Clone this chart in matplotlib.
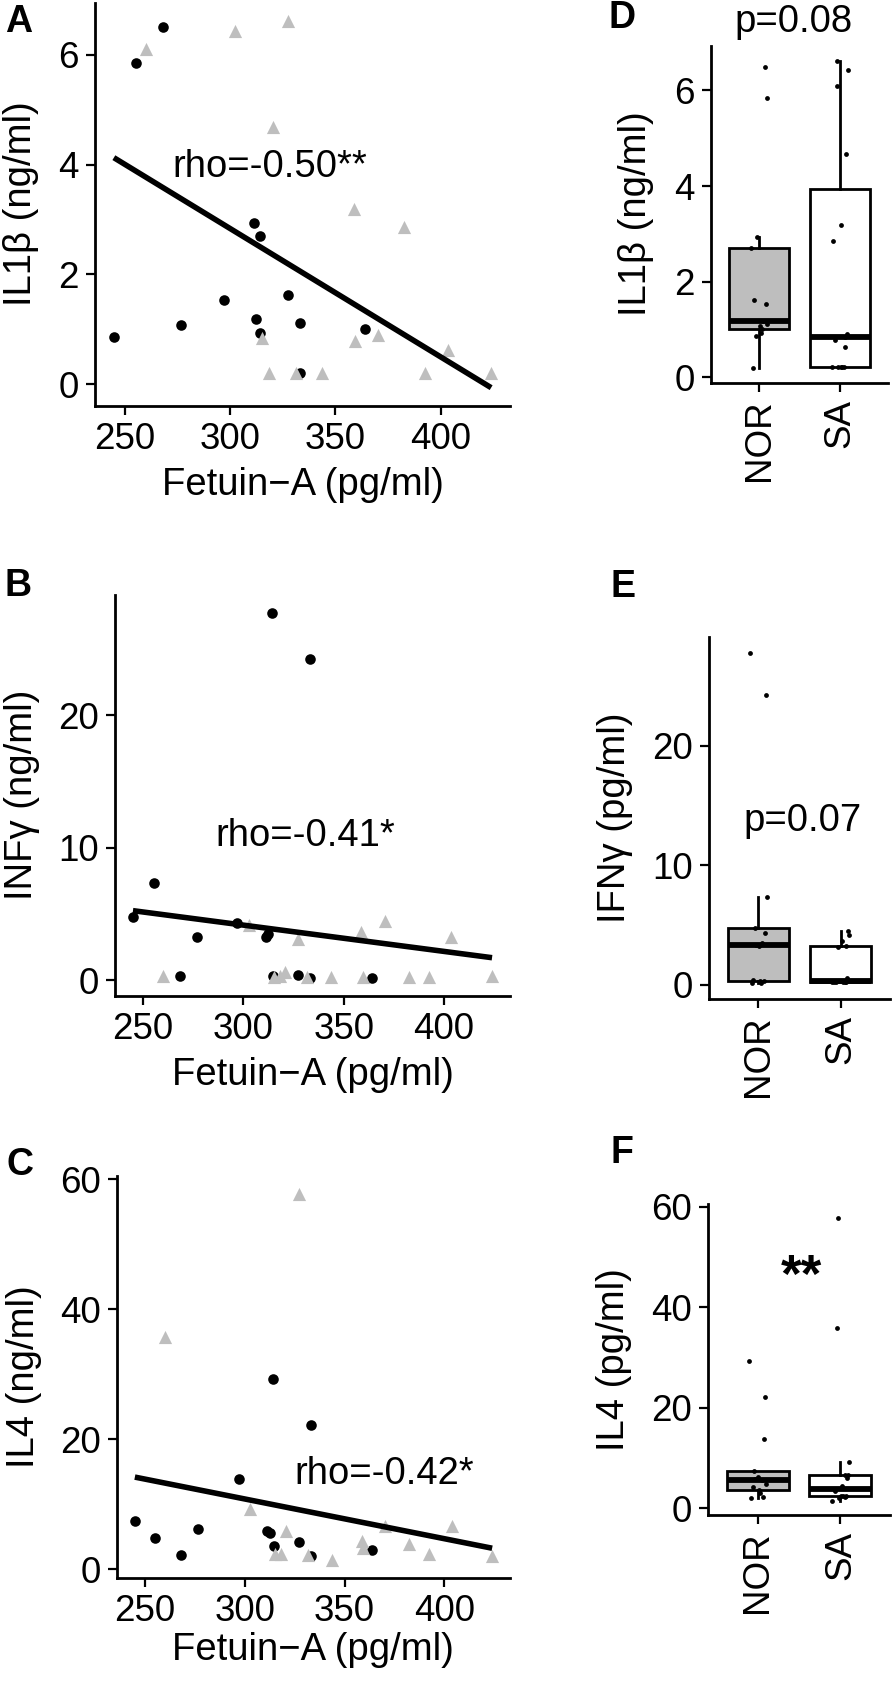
import numpy as np
import matplotlib
matplotlib.use("Agg")
import matplotlib.pyplot as plt

plt.rcParams['font.family'] = ['Liberation Sans', 'DejaVu Sans']

# ---------------- data ----------------
groups = ["NOR", "SA"]
fetuin_nor = [244.9, 255.2, 268.2, 276.7, 297.0, 311.3, 312.4, 314.1, 314.5, 327.4, 333.4, 333.4, 363.9]
fetuin_sa = [260.0, 302.6, 315.0, 318.4, 320.5, 327.4, 331.5, 343.8, 358.7, 359.5, 370.5, 382.4, 392.6, 403.7, 424.0]

il1b_nor = [0.86, 5.85, 6.50, 1.08, 1.54, 2.93, 1.18, 2.70, 0.93, 1.62, 1.12, 0.20, 1.01]
il1b_sa = [6.10, 6.43, 0.84, 0.21, 4.68, 6.61, 0.21, 0.21, 3.19, 0.78, 0.90, 2.86, 0.21, 0.63, 0.21]

ifng_nor = [4.79, 7.36, 0.30, 3.28, 4.34, 3.30, 3.50, 27.7, 0.30, 0.38, 24.26, 0.20, 0.20]
ifng_sa = [0.30, 4.20, 0.25, 0.30, 0.60, 3.15, 0.25, 0.25, 3.63, 0.25, 4.50, 0.25, 0.25, 3.28, 0.30]

il4_nor = [7.43, 4.77, 2.20, 6.15, 13.8, 5.80, 5.50, 29.2, 3.50, 4.10, 22.15, 2.05, 2.97]
il4_sa = [35.8, 9.2, 2.3, 2.3, 5.9, 57.7, 2.2, 1.43, 4.3, 3.3, 6.55, 3.85, 2.3, 6.55, 2.0]

x_ticks = [250, 300, 350, 400]
rho_labels = ["rho=-0.50**", "rho=-0.41*", "rho=-0.42*"]
box_labels = ["p=0.08", "p=0.07", "**"]

# ---------------- layout ----------------
W, H = 893, 1688
fig = plt.figure(figsize=(W / 100, H / 100), dpi=100)

def px_axes(l, t, r, b):
    return fig.add_axes([l / W, 1 - b / H, (r - l) / W, (b - t) / H])

GRAY = "#BEBEBE"
TICK_FS = 26.5
TITLE_FS = 27.5
JIT = [-0.04, 0.10, 0.07, 0.01, 0.08, -0.03, 0.05, -0.10, 0.02, -0.06, 0.09, -0.08, 0.03, 0.06, -0.02]

def style(ax):
    for s in ["top", "right"]:
        ax.spines[s].set_visible(False)
    for s in ["left", "bottom"]:
        ax.spines[s].set_linewidth(2.0)
        ax.spines[s].set_color("black")
    ax.tick_params(axis="both", labelsize=TICK_FS, length=6.5, width=1.6,
                   colors="black", pad=5)

def scatter_panel(box, yn, ys, yticks, rho, rho_xy):
    ax = px_axes(*box)
    ax.scatter(fetuin_nor, yn, s=58, color="black", marker="o", linewidths=0, zorder=2)
    ax.scatter(fetuin_sa, ys, s=90, color=GRAY, marker="^", linewidths=0, zorder=3)
    xa = np.array(fetuin_nor + fetuin_sa)
    ya = np.array(yn + ys)
    k, b = np.polyfit(xa, ya, 1)
    xl = np.array([xa.min(), xa.max()])
    ax.plot(xl, k * xl + b, color="black", lw=4.0, solid_capstyle="butt", zorder=4)
    ax.margins(x=0.05, y=0.05)
    ax.set_xticks(x_ticks)
    ax.set_yticks(yticks)
    ax.text(rho_xy[0], rho_xy[1], rho, fontsize=TITLE_FS, ha="center", va="center")
    style(ax)
    return ax

def box_panel(box, yn, ys, yticks, lab, lab_xy, lab_kw):
    ax = px_axes(*box)
    bp = ax.boxplot([yn, ys], positions=[1, 2], widths=0.75, patch_artist=True,
                    showfliers=False, showcaps=False, whis=1.5,
                    boxprops=dict(linewidth=2.0, edgecolor="black"),
                    whiskerprops=dict(linewidth=2.0, color="black"),
                    medianprops=dict(linewidth=4.2, color="black"))
    for patch, fc in zip(bp["boxes"], [GRAY, "white"]):
        patch.set_facecolor(fc)
    for gi, vals in enumerate([yn, ys]):
        xs = [gi + 1 + JIT[i % len(JIT)] for i in range(len(vals))]
        ax.scatter(xs, vals, s=12, color="black", linewidths=0, zorder=5)
    ax.set_xlim(0.4, 2.6)
    ax.margins(y=0.05)
    ax.set_xticks([1, 2])
    ax.set_xticklabels(groups, rotation=90)
    ax.set_yticks(yticks)
    ax.text(lab_xy[0], lab_xy[1], lab, ha="center", clip_on=False, **lab_kw)
    style(ax)
    return ax

# scatter panels (left column)
scatter_panel((95, 3, 510, 406), il1b_nor, il1b_sa, [0, 2, 4, 6], rho_labels[0], (319, 3.95))
scatter_panel((115, 595, 510, 996), ifng_nor, ifng_sa, [0, 10, 20], rho_labels[1], (331, 10.9))
scatter_panel((117, 1176, 510, 1578), il4_nor, il4_sa, [0, 20, 40, 60], rho_labels[2], (370, 14.6))

# box panels (right column)
box_panel((711, 46, 888, 383), il1b_nor, il1b_sa, [0, 2, 4, 6], box_labels[0], (1.43, 7.44),
          dict(fontsize=TITLE_FS, va="center"))
box_panel((709, 637, 890, 999), ifng_nor, ifng_sa, [0, 10, 20], box_labels[1], (1.54, 13.7),
          dict(fontsize=TITLE_FS, va="center"))
box_panel((708, 1204, 890, 1515), il4_nor, il4_sa, [0, 20, 40, 60], box_labels[2], (1.53, 43.0),
          dict(fontsize=38, fontweight="bold", va="baseline"))

# axis titles
def fx(x):
    return x / W

def fy(y):
    return 1 - y / H

for xc, yb in [(302.5, 495), (312.5, 1085), (313, 1660)]:
    fig.text(fx(xc), fy(yb), "Fetuin\u2212A (pg/ml)", fontsize=TITLE_FS, ha="center", va="baseline")

ylabels = [("IL1\u03b2 (ng/ml)", 21, 204), ("INF\u03b3 (ng/ml)", 22, 795), ("IL4 (ng/ml)", 24, 1377),
           ("IL1\u03b2 (ng/ml)", 636, 214), ("IFN\u03b3 (pg/ml)", 615, 818), ("IL4 (pg/ml)", 614, 1360)]
for txt, xc, yc in ylabels:
    fig.text(fx(xc), fy(yc), txt, fontsize=TITLE_FS, rotation=90, ha="center", va="center")

for letter, xc, yc in [("A", 19, 22), ("B", 18.5, 586), ("C", 20, 1165),
                       ("D", 622, 18), ("E", 623, 587), ("F", 622, 1153)]:
    fig.text(fx(xc), fy(yc), letter, fontsize=27, fontweight="bold", ha="center", va="center")

fig.savefig("out.png", dpi=100)
